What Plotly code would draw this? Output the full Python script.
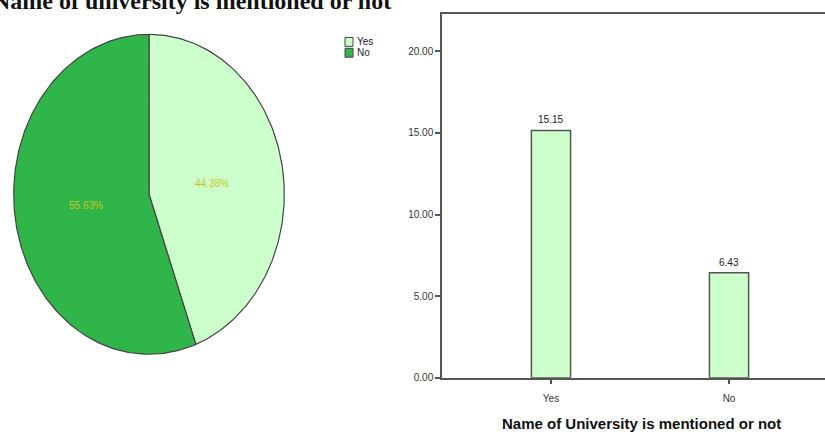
import numpy as np
import plotly.graph_objects as go

# ---- data ----
categories = ["Yes", "No"]
pie_shares = [44.38, 55.63]          # percent of documents
bar_values = [15.15, 6.43]           # mean value per category
y_ticks = [0, 5, 10, 15, 20]

pie_colors = ["#ccffcc", "#2fb54a"]
edge = "#444444"

W, H = 825, 437


def px(x):
    return x / W


def py(y):
    return 1 - y / H


fig = go.Figure()

# ---- pie drawn as filled wedges on an unequal-aspect axis pair ----
total = sum(pie_shares)
start = 0.0
label_pos = []
for name, share, col in zip(categories, pie_shares, pie_colors):
    frac = share / total
    theta = np.linspace(start, start + frac, 200) * 2 * np.pi
    xs = np.concatenate([[0], np.sin(theta), [0]])
    ys = np.concatenate([[0], np.cos(theta), [0]])
    fig.add_trace(go.Scatter(
        x=xs, y=ys, mode="lines", fill="toself", fillcolor=col,
        line=dict(color=edge, width=1.2), xaxis="x2", yaxis="y2",
        name=name, showlegend=False, hoverinfo="skip"))
    mid = (start + frac / 2) * 2 * np.pi
    label_pos.append((0.47 * np.sin(mid), 0.4 * np.cos(mid), share))
    start += frac

annotations = []
for lx, ly, share in label_pos:
    annotations.append(dict(
        x=lx, y=ly, xref="x2", yref="y2", text=f"{share:.2f}%",
        showarrow=False, font=dict(family="Liberation Sans", size=10, color="#c8c81e")))

# ---- bar chart ----
fig.add_trace(go.Bar(
    x=categories, y=bar_values, width=0.22,
    marker=dict(color="#ccffcc", line=dict(color="#555555", width=1.5)),
    showlegend=False, hoverinfo="skip"))

for cat, val in zip(categories, bar_values):
    annotations.append(dict(
        x=cat, y=val, xref="x", yref="y", text=f"{val:.2f}",
        showarrow=False, yanchor="bottom", yshift=3,
        font=dict(family="Liberation Sans", size=10, color="#222222")))

# chart title (serif, partly above the page edge)
annotations.append(dict(
    x=px(192), y=1, xref="paper", yref="paper", xanchor="center", yanchor="top",
    yshift=14,
    text="<b>Name of university is mentioned or not</b>", showarrow=False,
    font=dict(family="Liberation Serif", size=24, color="#111111")))

# x-axis title of the bar chart
annotations.append(dict(
    x=px(641), y=py(429), xref="paper", yref="paper", xanchor="center",
    yanchor="middle",
    text="<b>Name of University is mentioned or not</b>", showarrow=False,
    font=dict(family="Liberation Sans", size=15, color="#111111")))

# legend of the pie
shapes = []
for i, (name, col) in enumerate(zip(categories, pie_colors)):
    top = 38 + i * 11
    shapes.append(dict(
        type="rect", xref="paper", yref="paper",
        x0=px(345), x1=px(353), y0=py(top), y1=py(top + 9),
        fillcolor=col, line=dict(color=edge, width=1)))
    annotations.append(dict(
        x=px(355), y=py(top + 4.5), xref="paper", yref="paper",
        xanchor="left", yanchor="middle", text=name, showarrow=False,
        font=dict(family="Liberation Sans", size=10, color="#222222")))

fig.update_layout(
    width=W, height=H,
    margin=dict(l=0, r=0, t=0, b=0),
    paper_bgcolor="white", plot_bgcolor="white",
    xaxis=dict(
        domain=[px(442), 1], range=[-0.612, 1.539],
        showline=True, linecolor="#555555", linewidth=1.5, mirror=True,
        ticks="outside", ticklen=5, tickcolor="#555555", tickwidth=1.5,
        ticklabelstandoff=6,
        showgrid=False, zeroline=False,
        tickfont=dict(family="Liberation Sans", size=10, color="#333333")),
    yaxis=dict(
        domain=[py(383), py(14)], range=[0, 22.3],
        tickvals=y_ticks, ticktext=[f"{v:.2f}" for v in y_ticks],
        showline=True, linecolor="#555555", linewidth=1.5, mirror=False,
        ticks="outside", ticklen=5, tickcolor="#555555", tickwidth=1.5,
        showgrid=False, zeroline=False,
        tickfont=dict(family="Liberation Sans", size=10, color="#333333")),
    xaxis2=dict(domain=[px(13), px(285)], range=[-1.005, 1.005], visible=False,
                fixedrange=True),
    yaxis2=dict(domain=[py(360), py(34)], range=[-1.005, 1.005], visible=False,
                fixedrange=True),
    annotations=annotations,
    shapes=shapes,
)

fig.write_html("out.html")
